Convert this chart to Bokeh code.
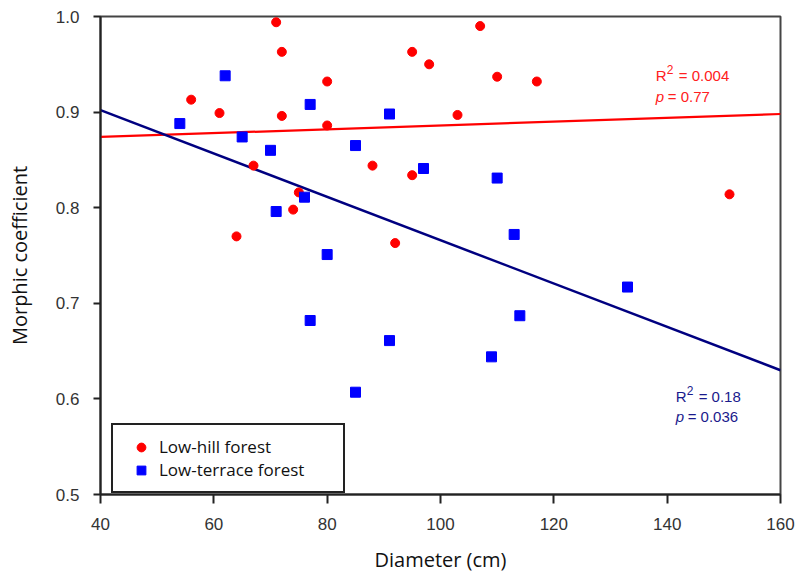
from bokeh.plotting import figure
from bokeh.models import FixedTicker, Legend, LegendItem, NumeralTickFormatter, Label
from bokeh.embed import file_html
from bokeh.resources import INLINE

# ---- data ----
hill_diameter = [71, 72, 56, 61, 72, 80, 80, 67, 75, 74, 64,
                 107, 95, 98, 110, 117, 103, 88, 95, 92, 151]
hill_morphic = [0.994, 0.963, 0.913, 0.899, 0.896, 0.932, 0.886, 0.844, 0.816, 0.798, 0.770,
                0.990, 0.963, 0.950, 0.937, 0.932, 0.897, 0.844, 0.834, 0.763, 0.814]

terrace_diameter = [62, 54, 77, 65, 70, 76, 71, 80, 77, 85,
                    91, 85, 97, 110, 113, 91, 114, 109, 133]
terrace_morphic = [0.938, 0.888, 0.908, 0.874, 0.860, 0.811, 0.796, 0.751, 0.682, 0.607,
                   0.898, 0.865, 0.841, 0.831, 0.772, 0.661, 0.687, 0.644, 0.717]

fit_x = [40, 160]
hill_fit = [0.874, 0.898]
terrace_fit = [0.902, 0.630]

x_ticks = [40, 60, 80, 100, 120, 140, 160]
y_ticks = [0.5, 0.6, 0.7, 0.8, 0.9, 1.0]

hill_stats = ["2", "= 0.004", "= 0.77"]
terrace_stats = ["2", "= 0.18", "= 0.036"]

# ---- figure ----
p = figure(width=796, height=575, x_range=(40, 160), y_range=(0.5, 1.0),
           output_backend="svg", toolbar_location=None,
           min_border_left=100, min_border_right=16, min_border_top=16, min_border_bottom=79)

p.grid.visible = False
p.outline_line_color = "#444444"
p.outline_line_width = 2
p.background_fill_color = "white"
p.border_fill_color = "white"

# regression lines
p.line(fit_x, hill_fit, line_color="#ff0000", line_width=2.2)
p.line(fit_x, terrace_fit, line_color="#000080", line_width=2.5)

# points
r_hill = p.scatter(hill_diameter, hill_morphic, marker="circle", size=9,
                   fill_color="#ff0000", line_color="#ff0000")
r_ter = p.scatter(terrace_diameter, terrace_morphic, marker="square", size=10,
                  fill_color="#0000ff", line_color="#0000ff")

# axes
for ax in (p.xaxis[0], p.yaxis[0]):
    ax.axis_line_width = 2
    ax.axis_line_color = "#222222"
    ax.major_tick_line_width = 2
    ax.major_tick_line_color = "#222222"
    ax.major_tick_in = 0
    ax.minor_tick_line_color = None
    ax.major_label_text_font = "Liberation Sans"
    ax.major_label_text_font_size = "17px"
    ax.major_label_text_color = "#333333"
    ax.axis_label_text_font = "Open Sans"
    ax.axis_label_text_font_size = "20px"
    ax.axis_label_text_font_style = "normal"
    ax.axis_label_text_color = "#111111"

p.xaxis.ticker = FixedTicker(ticks=x_ticks)
p.yaxis.ticker = FixedTicker(ticks=y_ticks)
p.yaxis.formatter = NumeralTickFormatter(format="0.0")
p.xaxis.major_tick_out = 9
p.yaxis.major_tick_out = 7
p.xaxis.major_label_standoff = 14
p.yaxis.major_label_standoff = 14
p.xaxis.axis_label = "Diameter (cm)"
p.yaxis.axis_label = "Morphic coefficient"
p.xaxis.axis_label_standoff = 13
p.yaxis.axis_label_standoff = 20

# legend
legend = Legend(items=[LegendItem(label="Low-hill forest", renderers=[r_hill]),
                       LegendItem(label="Low-terrace forest", renderers=[r_ter])],
                location=(11, 1), padding=10, spacing=0, margin=0,
                glyph_width=36, glyph_height=22, label_height=22, label_width=174,
                label_standoff=0, label_text_font="Open Sans", label_text_font_size="17px",
                label_text_color="#111111",
                border_line_color="#222222", border_line_width=2, border_line_alpha=1.0,
                background_fill_color="white", background_fill_alpha=1.0)
p.add_layout(legend)

# statistics annotations
def stats(x, y_r, y_p, color, texts):
    common = dict(text_color=color, text_font="Liberation Sans", text_baseline="alphabetic")
    p.add_layout(Label(x=x, y=y_r, text="R", text_font_size="15px", **common))
    p.add_layout(Label(x=x, y=y_r, x_offset=11, y_offset=6, text=texts[0],
                       text_font_size="12px", **common))
    p.add_layout(Label(x=x, y=y_r, x_offset=23, text=texts[1], text_font_size="15px", **common))
    p.add_layout(Label(x=x, y=y_p, text="p", text_font_size="15px",
                       text_font_style="italic", **common))
    p.add_layout(Label(x=x, y=y_p, x_offset=12, text=texts[2], text_font_size="15px", **common))

stats(138.0, 0.938, 0.916, "#ff2020", hill_stats)
stats(141.5, 0.602, 0.582, "#1a1a8c", terrace_stats)

open("out.html", "w").write(file_html(p, INLINE))
